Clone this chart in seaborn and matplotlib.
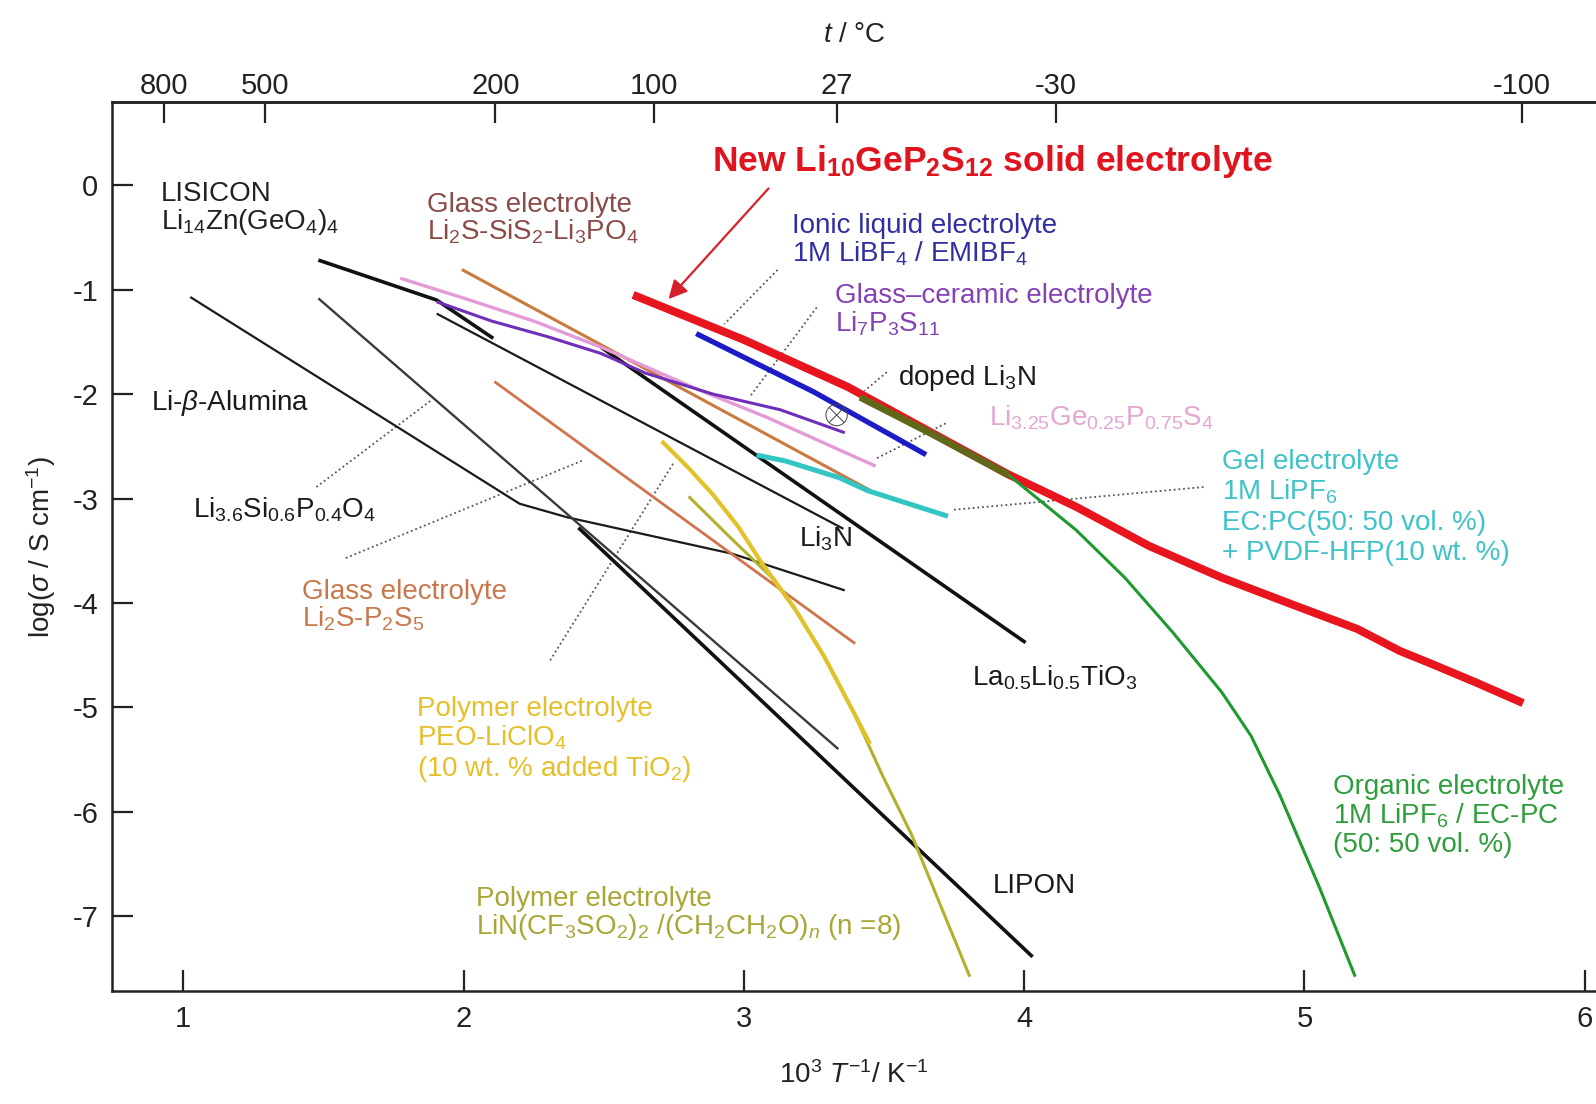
import numpy as np
import pandas as pd
import matplotlib
matplotlib.use("Agg")
import matplotlib.pyplot as plt
import seaborn as sns

# ---------------- data (x = 1000/T in 1/K, y = log(sigma / S cm^-1)) ----------------
red_x = [2.605, 3.0, 3.37, 3.67, 3.944, 4.186, 4.446, 4.705, 4.964, 5.189, 5.34, 5.45, 5.61, 5.78]
red_y = [-1.05, -1.48, -1.93, -2.37, -2.77, -3.08, -3.455, -3.758, -4.023, -4.25, -4.46, -4.58, -4.76, -4.96]

organic_x = [3.415, 3.67, 3.944, 4.065, 4.186, 4.359, 4.532, 4.705, 4.809, 4.912, 5.051, 5.181]
organic_y = [-2.03, -2.38, -2.774, -3.038, -3.304, -3.758, -4.288, -4.856, -5.272, -5.84, -6.71, -7.58]

ionic_x = [2.83, 3.25, 3.65]
ionic_y = [-1.42, -1.98, -2.58]

glassceramic_x = [1.904, 2.10, 2.30, 2.49, 2.65, 2.89, 3.13, 3.36]
glassceramic_y = [-1.115, -1.30, -1.45, -1.61, -1.80, -2.00, -2.15, -2.37]

thiolisicon_x = [1.774, 2.0, 2.25, 2.49, 2.84, 3.08, 3.47]
thiolisicon_y = [-0.89, -1.08, -1.30, -1.55, -1.96, -2.22, -2.69]

glass_si_x = [1.994, 3.47]
glass_si_y = [-0.807, -2.95]

glass_p_x = [2.11, 3.397]
glass_p_y = [-1.88, -4.39]

gel_x = [3.045, 3.148, 3.34, 3.442, 3.728]
gel_y = [-2.584, -2.64, -2.80, -2.925, -3.17]

peo_x = [2.707, 2.80, 2.889, 2.98, 3.062, 3.183, 3.287, 3.391, 3.45]
peo_y = [-2.45, -2.70, -2.96, -3.27, -3.61, -4.06, -4.515, -5.045, -5.35]

litfsi_x = [2.803, 2.95, 3.097, 3.183, 3.287, 3.391, 3.494, 3.598, 3.702, 3.806]
litfsi_y = [-2.98, -3.37, -3.75, -4.06, -4.515, -5.045, -5.65, -6.218, -6.90, -7.58]

lisicon_x = [1.482, 1.904, 2.106]
lisicon_y = [-0.716, -1.099, -1.466]

li3n_x = [1.904, 3.355]
li3n_y = [-1.229, -3.29]

alumina_x = [1.025, 2.20, 2.37, 2.96, 3.36]
alumina_y = [-1.07, -3.05, -3.18, -3.53, -3.88]

lisipo_x = [1.482, 3.337]
lisipo_y = [-1.083, -5.40]

lipon_x = [2.41, 4.03]
lipon_y = [-3.28, -7.39]

llto_x = [2.49, 4.005]
llto_y = [-1.55, -4.38]

doped_li3n_x = [3.331]
doped_li3n_y = [-2.20]

# leader (dotted) lines: label end -> curve end
leader_x = [[3.12, 2.93], [3.26, 3.02], [3.51, 3.43], [3.72, 3.47], [4.64, 3.74],
            [1.475, 1.884], [1.58, 2.43], [2.309, 2.749]]
leader_y = [[-0.81, -1.33], [-1.17, -2.03], [-1.79, -1.97], [-2.28, -2.62], [-2.89, -3.11],
            [-2.89, -2.06], [-3.57, -2.63], [-4.55, -2.66]]

arrow_from = (3.088, -0.03)
arrow_to = (2.731, -1.09)

top_ticks_c = [800, 500, 200, 100, 27, -30, -100]
y_ticks = [0, -1, -2, -3, -4, -5, -6, -7]
x_ticks = [1, 2, 3, 4, 5, 6]

# ---------------- style ----------------
sns.set_style("ticks")
plt.rcParams["font.family"] = ["Liberation Sans", "DejaVu Sans"]
plt.rcParams["mathtext.fontset"] = "custom"
plt.rcParams["mathtext.rm"] = "Liberation Sans"
plt.rcParams["mathtext.it"] = "Liberation Sans:italic"
plt.rcParams["mathtext.bf"] = "Liberation Sans:bold"
plt.rcParams["lines.solid_joinstyle"] = "round"
plt.rcParams["lines.solid_capstyle"] = "butt"

FS = 20
TFS = 21

fig = plt.figure(figsize=(15.96, 11.04), dpi=100)
ax = fig.add_axes([0.0702, 0.1021, 1.0 - 0.0702, 0.9078 - 0.1021])

def line(x, y, color, lw, z=2):
    sns.lineplot(x=x, y=y, ax=ax, color=color, linewidth=lw, sort=False,
                 estimator=None, zorder=z, legend=False)

line(alumina_x, alumina_y, "#1a1a1a", 1.6)
line(lisipo_x, lisipo_y, "#3a3a3a", 1.7)
line(lipon_x, lipon_y, "#111111", 2.6)
line(li3n_x, li3n_y, "#1a1a1a", 1.6)
line(lisicon_x, lisicon_y, "#111111", 2.6)
line(llto_x, llto_y, "#111111", 2.6)
line(glass_p_x, glass_p_y, "#d0744c", 2.0)
line(glass_si_x, glass_si_y, "#c97a3e", 2.2)
line(thiolisicon_x, thiolisicon_y, "#e49ad6", 2.4)
line(glassceramic_x, glassceramic_y, "#6f2fb8", 2.2)
line(gel_x, gel_y, "#33c4c4", 3.6)
line(litfsi_x, litfsi_y, "#b3b02e", 2.2)
line(peo_x, peo_y, "#e2c22a", 3.0)
line(ionic_x, ionic_y, "#1b1bc8", 3.8)
line(red_x, red_y, "#e8141e", 5.8, z=3)
line(organic_x, organic_y, "#1f9a2e", 2.2, z=4)
ox = np.array(organic_x); oy = np.array(organic_y)
m = ox <= 3.95
line(ox[m], oy[m], "#62681a", 5.0, z=4)

sns.scatterplot(x=doped_li3n_x, y=doped_li3n_y, ax=ax, marker=r"$\otimes$", s=260,
                color="#444444", edgecolor="none", zorder=5, legend=False)

for lx, ly in zip(leader_x, leader_y):
    ax.plot(lx, ly, color="#555555", lw=1.3, ls=(0, (1, 1.6)), zorder=1)

ax.annotate("", xy=arrow_to, xytext=arrow_from,
            arrowprops=dict(arrowstyle="-|>", color="#d8202a", lw=1.6,
                            mutation_scale=28, shrinkA=0, shrinkB=0), zorder=6)

# ---------------- labels ----------------
DY = 0.27
def label(x, y, lines, color, size=FS, dy=DY, **kw):
    for i, s in enumerate(lines):
        ax.text(x, y - i * dy, s, color=color, fontsize=size, ha="left",
                va="baseline", zorder=7, **kw)

ax.text(2.888, 0.136,
        r"New Li$_{\mathbf{10}}$GeP$_{\mathbf{2}}$S$_{\mathbf{12}}$ solid electrolyte",
        color="#e0141e", fontsize=25.5, fontweight="bold", ha="left", va="baseline", zorder=7)
label(0.920, -0.146, ["LISICON", r"Li$_{14}$Zn(GeO$_4$)$_4$"], "#222222")
label(1.871, -0.253, ["Glass electrolyte", r"Li$_2$S-SiS$_2$-Li$_3$PO$_4$"], "#8c4b48")
label(3.171, -0.458, ["Ionic liquid electrolyte", r"1M LiBF$_4$ / EMIBF$_4$"], "#2f2fa2")
label(3.324, -1.13, ["Glass\u2013ceramic electrolyte", r"Li$_7$P$_3$S$_{11}$"], "#8442b4")
label(3.549, -1.91, [r"doped Li$_3$N"], "#1a1a1a")
label(3.876, -2.30, [r"Li$_{3.25}$Ge$_{0.25}$P$_{0.75}$S$_4$"], "#e4a6d2")
label(4.704, -2.72, ["Gel electrolyte", r"1M LiPF$_6$", "EC:PC(50: 50 vol. %)",
                     "+ PVDF-HFP(10 wt. %)"], "#3fc2c8", dy=0.29)
label(0.884, -2.15, [r"Li-$\beta$-Alumina"], "#1a1a1a")
label(1.036, -3.18, [r"Li$_{3.6}$Si$_{0.6}$P$_{0.4}$O$_4$"], "#1a1a1a")
label(3.197, -3.46, [r"Li$_3$N"], "#1a1a1a")
label(1.425, -3.96, ["Glass electrolyte", r"Li$_2$S-P$_2$S$_5$"], "#c8784c")
label(3.814, -4.79, [r"La$_{0.5}$Li$_{0.5}$TiO$_3$"], "#1a1a1a")
label(1.835, -5.08, ["Polymer electrolyte", r"PEO-LiClO$_4$", r"(10 wt. % added TiO$_2$)"],
      "#e6c02c", dy=0.29)
label(5.103, -5.83, ["Organic electrolyte", r"1M LiPF$_6$ / EC-PC", "(50: 50 vol. %)"],
      "#2e9e3c", dy=0.28)
label(3.887, -6.78, ["LIPON"], "#1a1a1a")
label(2.046, -6.90, ["Polymer electrolyte",
                     r"LiN(CF$_3$SO$_2$)$_2$ /(CH$_2$CH$_2$O)$_n$ (n =8)"], "#aaa636")

# ---------------- axes ----------------
ax.set_xlim(0.746, 6.04)
ax.set_ylim(-7.72, 0.80)
ax.set_xticks(x_ticks)
ax.set_yticks(y_ticks)
ax.set_xticklabels([str(v) for v in x_ticks])
ax.set_yticklabels([str(v) for v in y_ticks])
ax.tick_params(axis="both", direction="in", length=15, width=1.6, labelsize=TFS,
               colors="#222222", pad=10)
ax.spines["right"].set_visible(False)
for s in ["left", "bottom", "top"]:
    ax.spines[s].set_linewidth(1.8)
    ax.spines[s].set_color("#222222")

ax.set_xlabel(r"10$^3$ $T^{-1}$/ K$^{-1}$", fontsize=FS, labelpad=20, color="#222222")
ax.set_ylabel(r"log($\sigma$ / S cm$^{-1}$)", fontsize=FS, labelpad=10, color="#222222")


def inv_to_c(x):
    x = np.asarray(x, dtype=float)
    with np.errstate(divide="ignore", invalid="ignore"):
        return 1000.0 / x - 273.15


def c_to_inv(t):
    t = np.asarray(t, dtype=float)
    with np.errstate(divide="ignore", invalid="ignore"):
        return 1000.0 / (t + 273.15)


sec = ax.secondary_xaxis("top", functions=(inv_to_c, c_to_inv))
sec.set_xticks(top_ticks_c)
sec.set_xticklabels([str(v) for v in top_ticks_c])
sec.tick_params(direction="in", length=15, width=1.6, labelsize=TFS, colors="#222222", pad=1)
sec.spines["top"].set_linewidth(1.8)
sec.set_xlabel(r"$t$ / °C", fontsize=FS, labelpad=22, color="#222222")

fig.savefig("out.png", dpi=100)
